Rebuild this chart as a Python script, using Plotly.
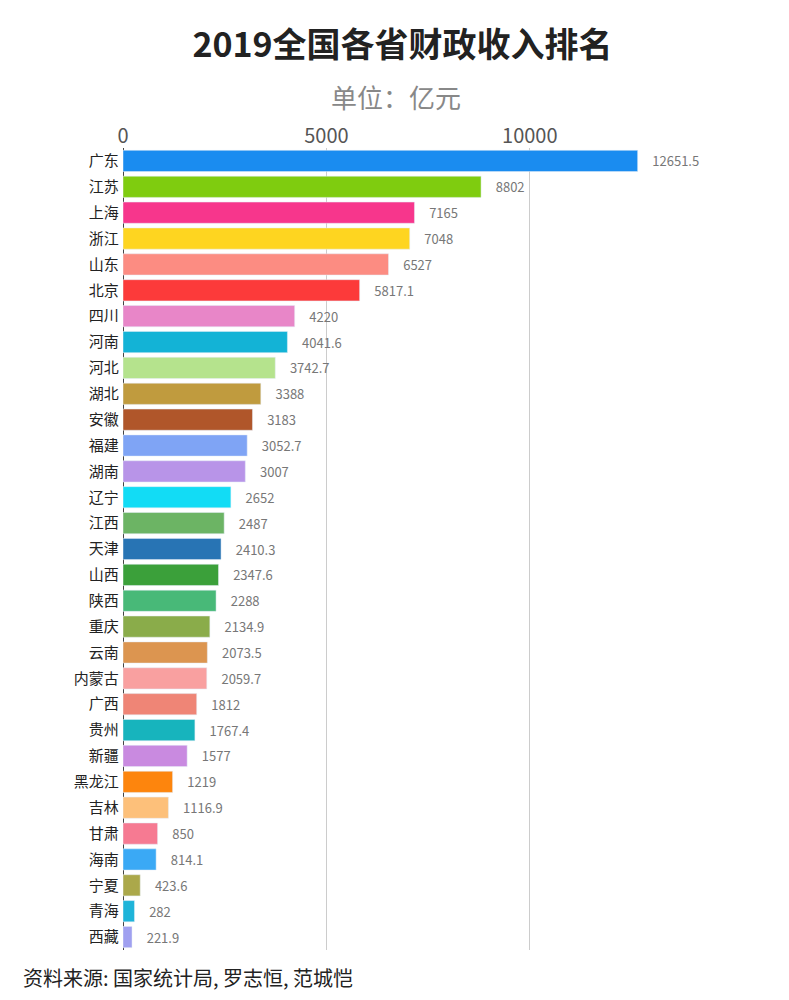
import plotly.graph_objects as go

provinces = ["广东", "江苏", "上海", "浙江", "山东", "北京", "四川", "河南", "河北", "湖北",
             "安徽", "福建", "湖南", "辽宁", "江西", "天津", "山西", "陕西", "重庆", "云南",
             "内蒙古", "广西", "贵州", "新疆", "黑龙江", "吉林", "甘肃", "海南", "宁夏", "青海", "西藏"]
revenue = [12651.5, 8802, 7165, 7048, 6527, 5817.1, 4220, 4041.6, 3742.7, 3388,
           3183, 3052.7, 3007, 2652, 2487, 2410.3, 2347.6, 2288, 2134.9, 2073.5,
           2059.7, 1812, 1767.4, 1577, 1219, 1116.9, 850, 814.1, 423.6, 282, 221.9]
colors = ["#1a8cf0", "#7fcc0f", "#f7368c", "#fed520", "#fc8c82", "#fc3a3a", "#e886c8", "#13b3d6",
          "#b5e38d", "#c09b3e", "#b0562a", "#7fa4f5", "#b894e8", "#12dcf5", "#6cb464", "#2874b4",
          "#3ba03a", "#48b978", "#8aac4a", "#dc9550", "#f9a0a0", "#ef8576", "#17b4bd", "#c98ae0",
          "#fd850d", "#fdc07a", "#f67a92", "#3aa9f5", "#aba84a", "#1eb4d9", "#a0a0f0"]
labels = [f"    {v:g}" for v in revenue]
ticks = [0, 5000, 10000]

fig = go.Figure(go.Bar(
    x=revenue, y=provinces, orientation="h", marker_color=colors, width=0.82,
    text=labels, textposition="outside", cliponaxis=False,
    textfont=dict(size=13, color="#777"),
))

fig.update_layout(
    width=789, height=1000, plot_bgcolor="white", paper_bgcolor="white",
    margin=dict(l=115, r=15, t=140, b=58),
    font=dict(family="Noto Sans CJK SC"),
    showlegend=False,
    title=dict(text="<b>2019全国各省财政收入排名</b>", x=0.5, xanchor="center", y=0.975,
               font=dict(size=34, color="#222")),
    annotations=[
        dict(text="资料来源: 国家统计局, 罗志恒, 范城恺", xref="paper", yref="paper",
             x=-0.155, y=-0.055, xanchor="left", showarrow=False,
             font=dict(size=20, color="#222")),
        dict(text="单位：亿元", xref="paper", yref="paper", x=0.415, y=1.09,
             xanchor="center", showarrow=False, font=dict(size=26, color="#888")),
    ],
)
fig.update_xaxes(side="top", range=[0, 16200], tickvals=ticks, ticktext=[str(t) for t in ticks],
                 showgrid=True, gridcolor="#ccc", zeroline=True, zerolinecolor="#444",
                 zerolinewidth=1, tickfont=dict(size=20, color="#555"))
fig.update_yaxes(autorange="reversed", tickfont=dict(size=15, color="#222"), ticksuffix=" ")

fig.write_html("out.html")
